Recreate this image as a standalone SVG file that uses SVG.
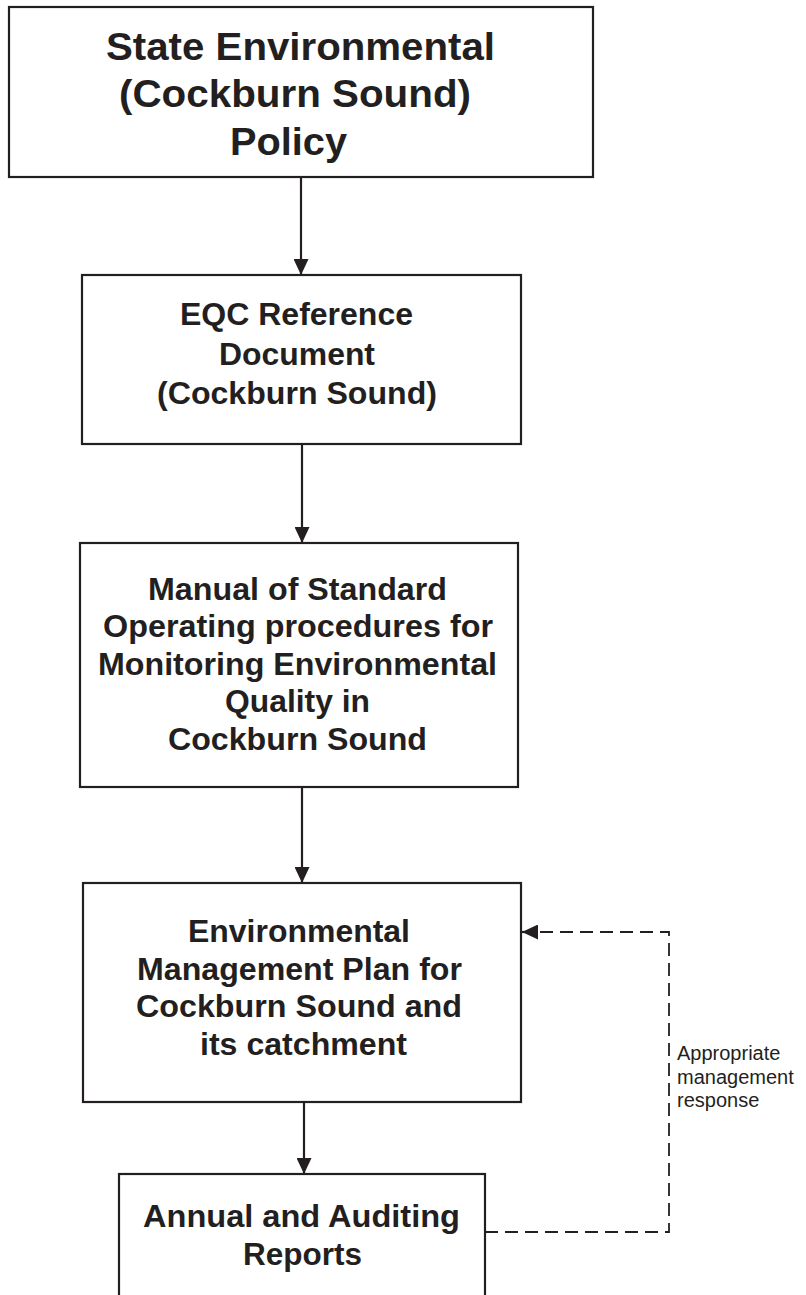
<svg xmlns="http://www.w3.org/2000/svg" width="806" height="1295" viewBox="0 0 806 1295">
  <style>
    .box { fill: #ffffff; stroke: #231f20; stroke-width: 2.2; }
    .t { font-family: "Liberation Sans", Arial, sans-serif; font-weight: bold; fill: #231f20; text-anchor: middle; }
    .big { font-size: 39px; }
    .mid { font-size: 32px; }
    .lbl { font-family: "Liberation Sans", Arial, sans-serif; font-size: 20px; fill: #231f20; }
    .flow { stroke: #231f20; stroke-width: 2.2; fill: none; }
    .dash { stroke: #231f20; stroke-width: 1.8; fill: none; stroke-dasharray: 13 7; }
  </style>
  <defs>
    <marker id="head" viewBox="0 0 16 15" refX="16" refY="7.5" markerWidth="16" markerHeight="15" markerUnits="userSpaceOnUse" orient="auto">
      <path d="M0,0 L16,7.5 L0,15 Z" fill="#231f20"/>
    </marker>
  </defs>

  <rect width="806" height="1295" fill="#ffffff"/>

  <!-- connectors -->
  <g id="connectors">
    <line class="flow" x1="301" y1="177" x2="301" y2="275" marker-end="url(#head)"/>
    <line class="flow" x1="302" y1="444" x2="302" y2="543" marker-end="url(#head)"/>
    <line class="flow" x1="302" y1="787" x2="302" y2="883" marker-end="url(#head)"/>
    <line class="flow" x1="304" y1="1102" x2="304" y2="1174" marker-end="url(#head)"/>
    <polyline class="dash" points="485,1232 669,1232 669,932 540,932"/>
    <line class="flow" x1="538" y1="932" x2="522" y2="932" stroke-width="1.8" marker-end="url(#head)"/>
    <text class="lbl" x="677" y="1060">Appropriate</text>
    <text class="lbl" x="677" y="1084">management</text>
    <text class="lbl" x="677" y="1107">response</text>
  </g>

  <!-- policy -->
  <g id="node-policy">
    <rect class="box" x="9" y="7" width="584" height="170"/>
    <text class="t big" x="300.5" y="60" textLength="389" lengthAdjust="spacingAndGlyphs">State Environmental</text>
    <text class="t big" x="295" y="107" textLength="352" lengthAdjust="spacingAndGlyphs">(Cockburn Sound)</text>
    <text class="t big" x="288.5" y="155" textLength="117" lengthAdjust="spacingAndGlyphs">Policy</text>
  </g>

  <!-- reference document -->
  <g id="node-eqc">
    <rect class="box" x="82" y="275" width="439" height="169"/>
    <text class="t mid" x="296.5" y="325" textLength="233" lengthAdjust="spacingAndGlyphs">EQC Reference</text>
    <text class="t mid" x="297" y="365" textLength="156" lengthAdjust="spacingAndGlyphs">Document</text>
    <text class="t mid" x="297" y="404" textLength="280" lengthAdjust="spacingAndGlyphs">(Cockburn Sound)</text>
  </g>

  <!-- manual of procedures -->
  <g id="node-manual">
    <rect class="box" x="80" y="543" width="438" height="244"/>
    <text class="t mid" x="297.5" y="600" textLength="299" lengthAdjust="spacingAndGlyphs">Manual of Standard</text>
    <text class="t mid" x="298" y="637" textLength="390" lengthAdjust="spacingAndGlyphs">Operating procedures for</text>
    <text class="t mid" x="297.5" y="675" textLength="399" lengthAdjust="spacingAndGlyphs">Monitoring Environmental</text>
    <text class="t mid" x="297.5" y="712" textLength="145" lengthAdjust="spacingAndGlyphs">Quality in</text>
    <text class="t mid" x="297.5" y="750" textLength="259" lengthAdjust="spacingAndGlyphs">Cockburn Sound</text>
  </g>

  <!-- management plan -->
  <g id="node-plan">
    <rect class="box" x="83" y="883" width="438" height="219"/>
    <text class="t mid" x="299" y="942" textLength="222" lengthAdjust="spacingAndGlyphs">Environmental</text>
    <text class="t mid" x="299.5" y="980" textLength="325" lengthAdjust="spacingAndGlyphs">Management Plan for</text>
    <text class="t mid" x="299" y="1017" textLength="326" lengthAdjust="spacingAndGlyphs">Cockburn Sound and</text>
    <text class="t mid" x="303.5" y="1055" textLength="207" lengthAdjust="spacingAndGlyphs">its catchment</text>
  </g>

  <!-- reports -->
  <g id="node-reports">
    <rect class="box" x="119" y="1174" width="366" height="140"/>
    <text class="t mid" x="301.5" y="1227" textLength="317" lengthAdjust="spacingAndGlyphs">Annual and Auditing</text>
    <text class="t mid" x="302.5" y="1265" textLength="119" lengthAdjust="spacingAndGlyphs">Reports</text>
  </g>
</svg>
